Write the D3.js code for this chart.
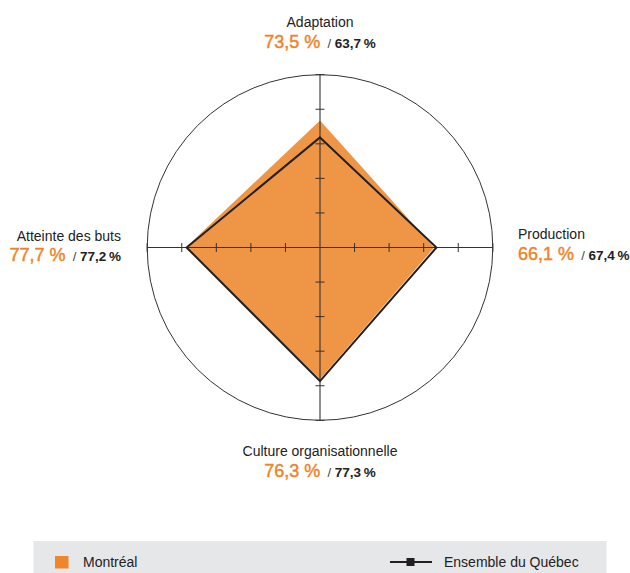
<!DOCTYPE html>
<html>
<head>
<meta charset="utf-8">
<script src="https://cdn.jsdelivr.net/npm/d3@7"></script>
<style>
html,body{margin:0;padding:0;background:#fff;}
svg{display:block;font-family:"Liberation Sans",Arial,Helvetica,sans-serif;}
</style>
</head>
<body>
<svg id="chart" width="630" height="573"></svg>
<script>
const axesNames = ["Adaptation", "Production", "Culture organisationnelle", "Atteinte des buts"];
const montreal = [73.5, 66.1, 76.3, 77.7];
const quebec = [63.7, 67.4, 77.3, 77.2];
const montrealLabels = ["73,5 %", "66,1 %", "76,3 %", "77,7 %"];
const quebecLabels = ["63,7\u2009%", "67,4\u2009%", "77,3\u2009%", "77,2\u2009%"];
const tickValues = [20, 40, 60, 80, 100];
const seriesNames = ["Montréal", "Ensemble du Québec"];

const svg = d3.select("#chart");
const cx = 320, cy = 247.5, R = 172.8;
const r = d3.scaleLinear().domain([0, 100]).range([0, R]);
const angle = d3.scalePoint().domain(axesNames).range([0, 3 * Math.PI / 2]); // 0 = up, clockwise

const g = svg.append("g").attr("transform", `translate(${cx},${cy})`);

const pt = (name, v) => {
  const a = angle(name);
  return [Math.sin(a) * r(v), -Math.cos(a) * r(v)];
};

// Montréal fill
g.append("path")
  .attr("d", d3.line()(axesNames.map((n, i) => pt(n, montreal[i]))) + "Z")
  .attr("fill", "#EE9645");

// outer circle
g.append("circle").attr("r", r(100)).attr("fill", "none").attr("stroke", "#333").attr("stroke-width", 1);

// axes lines
g.append("line").attr("x1", -r(100)).attr("x2", r(100)).attr("y1", 0).attr("y2", 0)
  .attr("stroke", "#333").attr("stroke-width", 1.1);
g.append("line").attr("y1", -r(100)).attr("y2", r(100)).attr("x1", 0).attr("x2", 0)
  .attr("stroke", "#333").attr("stroke-width", 1.1);

// ticks
const tl = 4.5;
[1, -1].forEach(s => {
  tickValues.forEach(t => {
    g.append("line").attr("x1", s * r(t)).attr("x2", s * r(t)).attr("y1", -tl).attr("y2", tl)
      .attr("stroke", "#333").attr("stroke-width", 1);
    g.append("line").attr("y1", s * r(t)).attr("y2", s * r(t)).attr("x1", -tl).attr("x2", tl)
      .attr("stroke", "#333").attr("stroke-width", 1);
  });
});

// Québec line
g.append("path")
  .attr("d", d3.line()(axesNames.map((n, i) => pt(n, quebec[i]))) + "Z")
  .attr("fill", "none").attr("stroke", "#231F20").attr("stroke-width", 2).attr("stroke-linejoin", "miter");

// labels
const orange = "#EF8327";
const labelPos = [
  {x: 320, y1: 27, y2: 47.5, anchor: "middle"},
  {x: 518, y1: 239, y2: 260, anchor: "start"},
  {x: 320, y1: 456, y2: 476.5, anchor: "middle"},
  {x: 121, y1: 240.5, y2: 260.5, anchor: "end"}
];
axesNames.forEach((n, i) => {
  const p = labelPos[i];
  svg.append("text").attr("x", p.x).attr("y", p.y1).attr("text-anchor", p.anchor)
    .attr("font-size", 14).attr("fill", "#222").text(n);
  const t = svg.append("text").attr("x", p.x).attr("y", p.y2).attr("text-anchor", p.anchor);
  t.append("tspan").attr("font-size", 18).attr("fill", orange)
    .attr("stroke", orange).attr("stroke-width", 0.45).text(montrealLabels[i]);
  t.append("tspan").attr("font-size", 13).attr("fill", "#444").text("\u00a0\u00a0/\u00a0");
  t.append("tspan").attr("font-size", 13.5).attr("font-weight", "bold").attr("fill", "#222").text(quebecLabels[i]);
});

// legend
svg.append("rect").attr("x", 33.5).attr("y", 541).attr("width", 573).attr("height", 40).attr("fill", "#E6E7E8");
svg.append("rect").attr("x", 55).attr("y", 556).attr("width", 13.5).attr("height", 12.5).attr("fill", "#F0852A");
svg.append("text").attr("x", 83).attr("y", 567).attr("font-size", 14).attr("fill", "#222").text(seriesNames[0]);
svg.append("line").attr("x1", 390).attr("x2", 432).attr("y1", 562).attr("y2", 562).attr("stroke", "#231F20").attr("stroke-width", 2.2);
svg.append("rect").attr("x", 406.5).attr("y", 558).attr("width", 8).attr("height", 8).attr("fill", "#231F20");
svg.append("text").attr("x", 444).attr("y", 567).attr("font-size", 14).attr("fill", "#222").text(seriesNames[1]);
</script>
</body>
</html>
